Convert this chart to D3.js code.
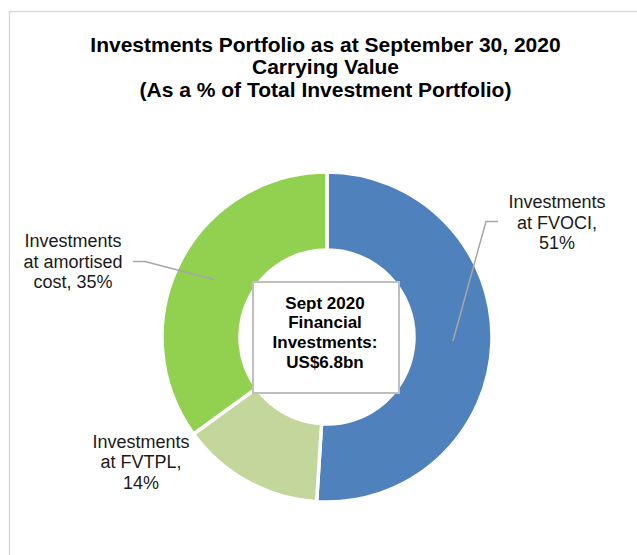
<!DOCTYPE html>
<html>
<head>
<meta charset="utf-8">
<script src="https://cdn.jsdelivr.net/npm/d3@7"></script>
<style>
body { margin: 0; background: #fff; }
svg { display: block; font-family: Arial, 'Liberation Sans', sans-serif; }
</style>
</head>
<body>
<div id="chart"></div>
<script>
// data
let categories = ['Investments at FVOCI', 'Investments at FVTPL', 'Investments at amortised cost']
let shares = [51, 14, 35]
let labelLines = [
	['Investments', 'at FVOCI,', '51%'],
	['Investments', 'at FVTPL,', '14%'],
	['Investments', 'at amortised', 'cost, 35%']
]
let titleLines = ['Investments Portfolio as at September 30, 2020', 'Carrying Value', '(As a % of Total Investment Portfolio)']
let centerLines = ['Sept 2020', 'Financial', 'Investments:', 'US$6.8bn']

let colors = ['#4f81bd', '#c3d69b', '#92d050']

let width = 637, height = 555
let cx = 327, cy = 337
let outerR = 165, innerR = 87

// label placement relative to donut centre: text centre x, first baseline y, leader elbow
let labelLayout = [
	{ x: 230, y: -129, elbow: [159, -115.5], end: [171, -115.5] },
	{ x: -186, y: 110.5, elbow: null, end: null },
	{ x: -254, y: -90, elbow: [-182, -75.5], end: [-194, -75.5] }
]

let svg = d3.select('#chart')
.append('svg')
.attr('width', width)
.attr('height', height)

// outer frame (runs off the right/bottom edge)
svg.append('rect')
.attr('x', 9.5)
.attr('y', 11.5)
.attr('width', 700)
.attr('height', 700)
.attr('fill', 'none')
.style('stroke', '#d9d9d9')
.style('stroke-width', 1.5)

svg.append('text')
.attr('text-anchor', 'middle')
.style('font-size', '21px')
.style('font-weight', 'bold')
.style('fill', '#000')
.selectAll('tspan')
.data(titleLines)
.join('tspan')
.attr('x', 325.5)
.attr('y', (d, i) => 51.5 + i * 22.6)
.text(d => d)

let g = svg.append('g')
.attr('transform', `translate(${cx},${cy})`)

let pieData = d3.pie().sort(null)(shares)

let arc = d3.arc().innerRadius(innerR).outerRadius(outerR)
let midArc = d3.arc().innerRadius((innerR + outerR) / 2).outerRadius((innerR + outerR) / 2)

g.selectAll('.slice')
.data(pieData)
.join('path')
.attr('class', 'slice')
.attr('d', arc)
.style('fill', (d, i) => colors[i])
.style('stroke', '#fff')
.style('stroke-width', 3.5)
.append('title')
.text((d, i) => `${categories[i]}: ${d.data}%`)

// leader lines from slice centroid to label
g.selectAll('.leader')
.data(pieData.filter((d, i) => labelLayout[i].elbow))
.join('polyline')
.attr('class', 'leader')
.attr('points', d => {
	let l = labelLayout[d.index]
	return [midArc.centroid(d), l.elbow, l.end].map(p => p.join(',')).join(' ')
})
.attr('fill', 'none')
.style('stroke', '#a6a6a6')
.style('stroke-width', 1.5)

g.selectAll('.label')
.data(pieData)
.join('text')
.attr('class', 'label')
.attr('text-anchor', 'middle')
.style('font-size', '18px')
.style('fill', '#1a1a1a')
.selectAll('tspan')
.data(d => labelLines[d.index].map(t => ({ t, l: labelLayout[d.index] })))
.join('tspan')
.attr('x', d => d.l.x)
.attr('y', (d, i) => d.l.y + i * 20.7)
.text(d => d.t)

// centre box
g.append('rect')
.attr('x', -74)
.attr('y', -55)
.attr('width', 146)
.attr('height', 111)
.attr('fill', '#fff')
.style('stroke', '#bfbfbf')
.style('stroke-width', 2)

g.append('text')
.attr('text-anchor', 'middle')
.style('font-size', '17px')
.style('font-weight', 'bold')
.style('fill', '#000')
.selectAll('tspan')
.data(centerLines)
.join('tspan')
.attr('x', -2)
.attr('y', (d, i) => -28.5 + i * 19.7)
.text(d => d)
</script>
</body>
</html>
